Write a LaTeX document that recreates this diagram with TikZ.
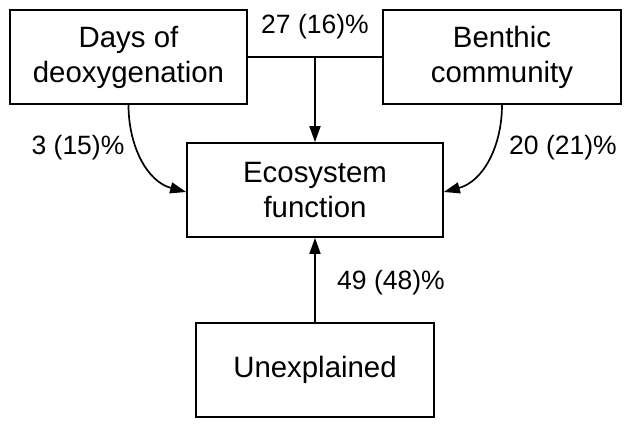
\documentclass[tikz,border=0pt]{standalone}
\usepackage{fontspec}
\setmainfont{Liberation Sans}
\usetikzlibrary{arrows.meta}
\begin{document}
\begin{tikzpicture}[x=1pt,y=-1pt,
  box/.style={draw,line width=1.7pt,minimum height=94pt,align=center,inner sep=0pt,
    font=\fontsize{29.4}{35}\selectfont},
  conn/.style={line width=1.7pt},
  arr/.style={conn,-{Triangle[length=16pt,width=11pt]}},
  lbl/.style={font=\fontsize{26.5}{31}\selectfont,inner sep=0pt}]
\useasboundingbox (0,0) rectangle (630,427);
\node[box,minimum width=237pt] (days) at (128.5,57) {Days of\\deoxygenation};
\node[box,minimum width=238pt] (ben) at (502,57) {Benthic\\community};
\node[box,minimum width=256pt] (eco) at (315,190) {Ecosystem\\function};
\node[box,minimum width=238pt] (unex) at (315,370) {Unexplained};
\coordinate (j) at (315,57);
\draw[conn] (days.east) -- (ben.west);
\draw[arr] (j) -- (eco.north);
\draw[arr] (days.south) to[out=-90,in=165] ([yshift=-2pt]eco.west);
\draw[arr] (ben.south) to[out=-90,in=15] ([yshift=-2pt]eco.east);
\draw[arr] (unex.north) -- (eco.south);
\node[lbl] (l1) at (315,27) {27 (16)\%};
\node[lbl] (l2) at (78,148) {3 (15)\%};
\node[lbl] (l3) at (563,148) {20 (21)\%};
\node[lbl] (l4) at (391,283) {49 (48)\%};
\end{tikzpicture}
\end{document}
